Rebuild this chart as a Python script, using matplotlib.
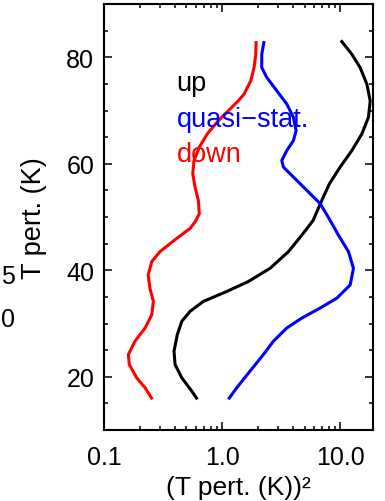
"""Vertical profiles of squared temperature perturbation for three phases."""

import matplotlib

matplotlib.use("Agg")

import matplotlib.pyplot as plt
from matplotlib.ticker import MultipleLocator, LogLocator, NullFormatter

plt.rcParams["font.family"] = ["Liberation Sans", "DejaVu Sans"]

# Profiles: (T pert.)^2 in K^2 against height
up_var = [10.14, 12.57, 14.77, 16.84, 17.96, 17.37, 15.27, 12.57, 10.0, 8.12,
          7.00, 5.90, 4.74, 3.65, 2.55, 1.671, 1.096, 0.694, 0.536, 0.456,
          0.418, 0.392, 0.400, 0.456, 0.553, 0.618]
up_z = [83.18, 80.56, 78.07, 74.95, 71.83, 68.73, 65.61, 62.49, 59.38, 56.26,
        53.14, 49.35, 46.60, 43.50, 40.37, 37.89, 36.02, 34.15, 32.28, 30.41,
        27.91, 24.80, 22.30, 19.81, 17.33, 15.76]

quasi_var = [2.270, 2.169, 2.169, 2.392, 2.908, 3.535, 4.020, 4.238, 4.020,
             3.535, 3.206, 3.308, 4.020, 5.223, 6.767, 7.61, 8.23, 9.67, 11.76,
             12.96, 12.16, 9.38, 6.767, 4.74, 3.535, 2.721, 2.239, 1.727,
             1.332, 1.131]
quasi_z = [83.05, 80.56, 78.07, 76.21, 73.70, 71.21, 68.73, 66.22, 64.36,
           62.49, 60.62, 59.38, 57.51, 55.01, 52.52, 50.65, 49.35, 46.60, 43.50,
           40.37, 37.25, 34.77, 32.90, 31.03, 29.16, 26.67, 24.17, 21.07,
           17.94, 15.76]

down_var = [1.942, 1.930, 1.867, 1.751, 1.536, 1.374, 1.131, 0.930, 0.750,
            0.642, 0.579, 0.565, 0.590, 0.630, 0.642, 0.602, 0.536, 0.413,
            0.298, 0.254, 0.237, 0.245, 0.262, 0.254, 0.223, 0.183, 0.161,
            0.164, 0.189, 0.223, 0.257]
down_z = [83.05, 80.56, 78.07, 75.57, 73.08, 71.83, 69.96, 68.09, 65.61,
          63.12, 60.62, 58.13, 55.64, 53.14, 50.65, 49.35, 47.85, 45.98, 43.50,
          41.63, 39.12, 36.64, 34.15, 31.64, 29.16, 26.67, 24.17, 22.30,
          19.81, 17.94, 15.76]

series = [
    ("up", up_var, up_z, "black"),
    ("quasi\u2212stat.", quasi_var, quasi_z, "blue"),
    ("down", down_var, down_z, "red"),
]
label_z = [73.8, 67.0, 60.5]
label_x = 0.413

xticks = [0.1, 1.0, 10.0]
xtick_labels = ["0.1", "1.0", "10.0"]
yticks = [20, 40, 60, 80]

fig = plt.figure(figsize=(3.85, 5.02), dpi=100)
ax = fig.add_axes([0.270, 0.1414, 0.699, 0.8486])

for (name, var, z, color), lz in zip(series, label_z):
    ax.plot(var, z, color=color, linewidth=2.2, solid_capstyle="butt",
            solid_joinstyle="round")
    ax.text(label_x, lz, name, color=color, fontsize=19.5, va="baseline", ha="left")

ax.set_xscale("log")
ax.set_xlim(0.1, 19.0)
ax.set_ylim(10, 90)
ax.set_xticks(xticks, labels=xtick_labels)
ax.xaxis.set_minor_locator(LogLocator(base=10, subs=range(2, 10)))
ax.xaxis.set_minor_formatter(NullFormatter())
ax.set_yticks(yticks)
ax.yaxis.set_minor_locator(MultipleLocator(5))

ax.tick_params(which="both", direction="in", top=True, right=True, width=1.1,
               labelsize=18)
ax.tick_params(which="major", length=5.5)
ax.tick_params(which="minor", length=3)
ax.tick_params(axis="x", pad=11)
ax.tick_params(axis="y", pad=7)
for spine in ax.spines.values():
    spine.set_linewidth(1.5)

ax.set_xlabel("(T pert. (K))\u00b2", fontsize=19, labelpad=4)
ax.set_ylabel("T pert. (K)", fontsize=19.5, labelpad=14)

# tick labels of the neighbouring panel, clipped at the figure edge
fig.text(15 / 385, 1 - 277 / 502, "5", fontsize=18, ha="right", va="center")
fig.text(15 / 385, 1 - 320 / 502, "0", fontsize=18, ha="right", va="center")

fig.savefig("out.png", dpi=100)
